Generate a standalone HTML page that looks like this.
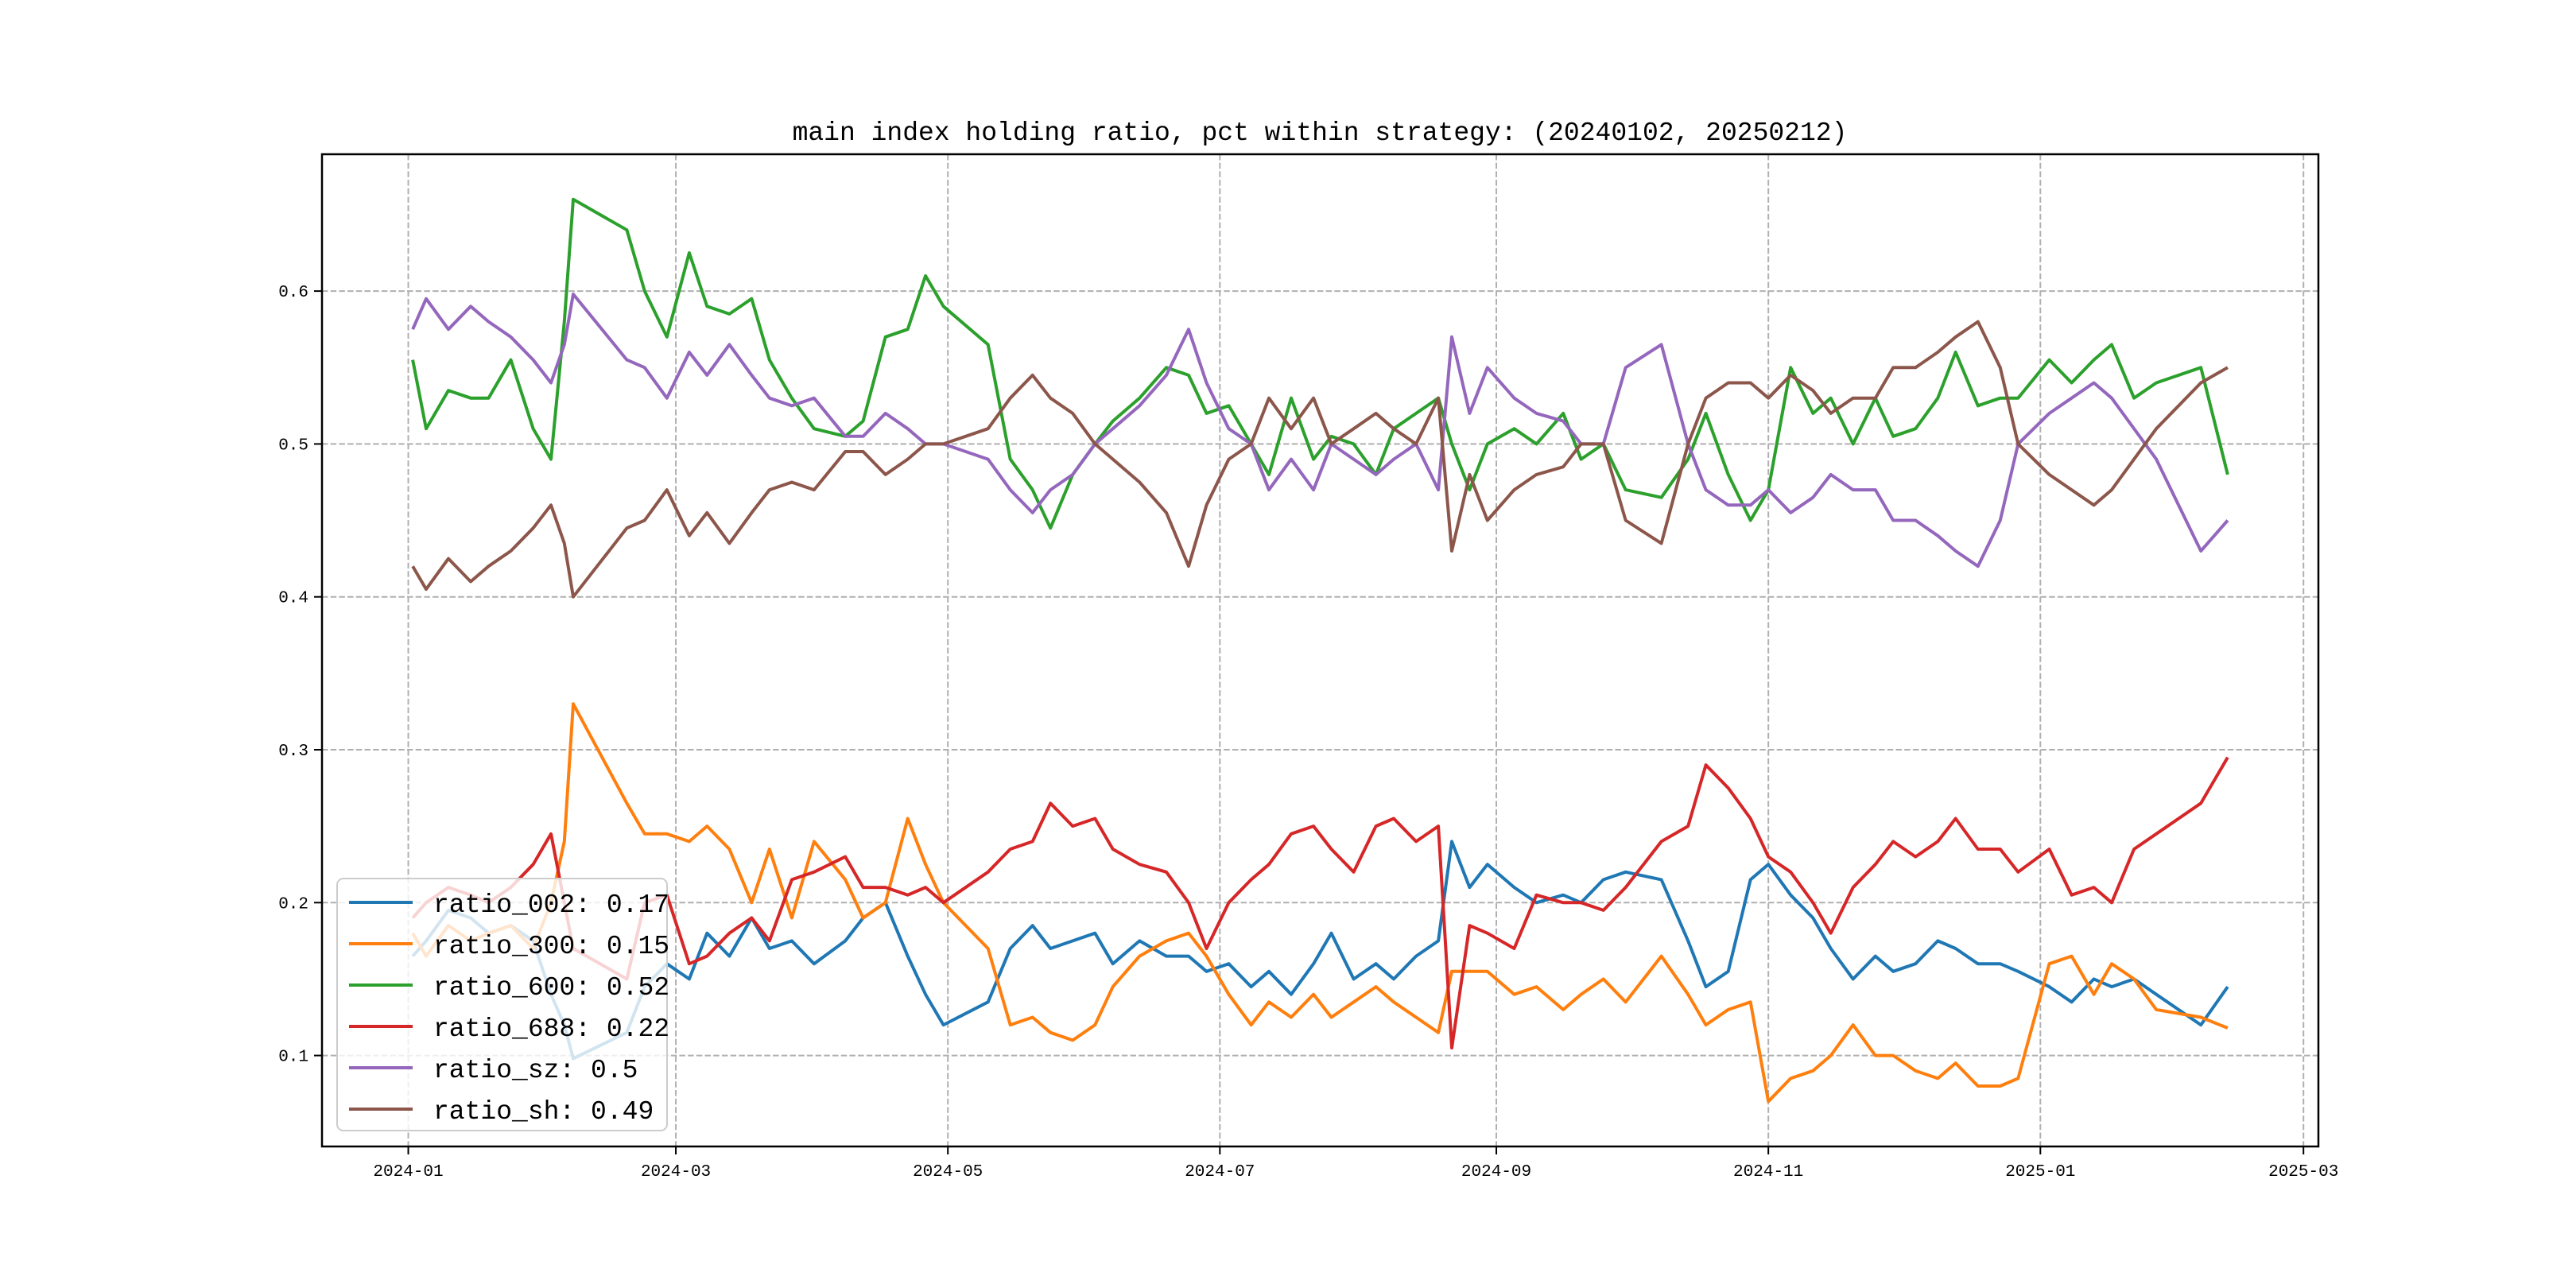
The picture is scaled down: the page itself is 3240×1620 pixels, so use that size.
<!DOCTYPE html>
<html><head><meta charset="utf-8">
<style>
html,body{margin:0;padding:0;background:#fff;}
svg{display:block;}
text{font-family:"Liberation Mono","Noto Sans CJK SC",monospace;}
</style></head>
<body>
<svg id="chart" width="3240" height="1620" viewBox="0 0 3240 1620" xmlns="http://www.w3.org/2000/svg">
<rect width="3240" height="1620" fill="#fff"/>
<text x="1660" y="176" font-size="33" text-anchor="middle">main index holding ratio, pct within strategy: (20240102, 20250212)</text>
<g id="grid"></g>
<g id="series"></g>
<rect x="405" y="194" width="2511" height="1248" fill="none" stroke="#000" stroke-width="2.5"/>
<g id="axes"></g>
<g id="legend"></g>
</svg>
<script>
const dates = ["2024-01-02","2024-01-05","2024-01-10","2024-01-15","2024-01-19","2024-01-24","2024-01-29","2024-02-02","2024-02-05","2024-02-07","2024-02-19","2024-02-23","2024-02-28","2024-03-04","2024-03-08","2024-03-13","2024-03-18","2024-03-22","2024-03-27","2024-04-01","2024-04-08","2024-04-12","2024-04-17","2024-04-22","2024-04-26","2024-04-30","2024-05-10","2024-05-15","2024-05-20","2024-05-24","2024-05-29","2024-06-03","2024-06-07","2024-06-13","2024-06-19","2024-06-24","2024-06-28","2024-07-03","2024-07-08","2024-07-12","2024-07-17","2024-07-22","2024-07-26","2024-07-31","2024-08-05","2024-08-09","2024-08-14","2024-08-19","2024-08-22","2024-08-26","2024-08-30","2024-09-05","2024-09-10","2024-09-16","2024-09-20","2024-09-25","2024-09-30","2024-10-08","2024-10-14","2024-10-18","2024-10-23","2024-10-28","2024-11-01","2024-11-06","2024-11-11","2024-11-15","2024-11-20","2024-11-25","2024-11-29","2024-12-04","2024-12-09","2024-12-13","2024-12-18","2024-12-23","2024-12-27","2025-01-03","2025-01-08","2025-01-13","2025-01-17","2025-01-22","2025-01-27","2025-02-06","2025-02-12"];
const ratio002 = [.165,.175,.195,.19,.18,.185,.175,.14,.12,.098,.115,.145,.16,.15,.18,.165,.19,.17,.175,.16,.175,.19,.2,.165,.14,.12,.135,.17,.185,.17,.175,.18,.16,.175,.165,.165,.155,.16,.145,.155,.14,.16,.18,.15,.16,.15,.165,.175,.24,.21,.225,.21,.2,.205,.2,.215,.22,.215,.175,.145,.155,.215,.225,.205,.19,.17,.15,.165,.155,.16,.175,.17,.16,.16,.155,.145,.135,.15,.145,.15,.14,.12,.145];
const ratio300 = [.18,.165,.185,.175,.18,.185,.17,.2,.24,.33,.265,.245,.245,.24,.25,.235,.2,.235,.19,.24,.215,.19,.2,.255,.225,.2,.17,.12,.125,.115,.11,.12,.145,.165,.175,.18,.165,.14,.12,.135,.125,.14,.125,.135,.145,.135,.125,.115,.155,.155,.155,.14,.145,.13,.14,.15,.135,.165,.14,.12,.13,.135,.07,.085,.09,.1,.12,.1,.1,.09,.085,.095,.08,.08,.085,.16,.165,.14,.16,.15,.13,.125,.118];
const ratio600 = [.555,.51,.535,.53,.53,.555,.51,.49,.58,.66,.64,.6,.57,.625,.59,.585,.595,.555,.53,.51,.505,.515,.57,.575,.61,.59,.565,.49,.47,.445,.48,.5,.515,.53,.55,.545,.52,.525,.5,.48,.53,.49,.505,.5,.48,.51,.52,.53,.5,.47,.5,.51,.5,.52,.49,.5,.47,.465,.49,.52,.48,.45,.47,.55,.52,.53,.5,.53,.505,.51,.53,.56,.525,.53,.53,.555,.54,.555,.565,.53,.54,.55,.48];
const ratio688 = [.19,.2,.21,.205,.2,.21,.225,.245,.2,.17,.15,.2,.205,.16,.165,.18,.19,.175,.215,.22,.23,.21,.21,.205,.21,.2,.22,.235,.24,.265,.25,.255,.235,.225,.22,.2,.17,.2,.215,.225,.245,.25,.235,.22,.25,.255,.24,.25,.105,.185,.18,.17,.205,.2,.2,.195,.21,.24,.25,.29,.275,.255,.23,.22,.2,.18,.21,.225,.24,.23,.24,.255,.235,.235,.22,.235,.205,.21,.2,.235,.245,.265,.295];
const ratioSz = [.575,.595,.575,.59,.58,.57,.555,.54,.565,.598,.555,.55,.53,.56,.545,.565,.545,.53,.525,.53,.505,.505,.52,.51,.5,.5,.49,.47,.455,.47,.48,.5,.51,.525,.545,.575,.54,.51,.5,.47,.49,.47,.5,.49,.48,.49,.5,.47,.57,.52,.55,.53,.52,.515,.5,.5,.55,.565,.5,.47,.46,.46,.47,.455,.465,.48,.47,.47,.45,.45,.44,.43,.42,.45,.5,.52,.53,.54,.53,.51,.49,.43,.45];
const ratioSh = [.42,.405,.425,.41,.42,.43,.445,.46,.435,.40,.445,.45,.47,.44,.455,.435,.455,.47,.475,.47,.495,.495,.48,.49,.5,.5,.51,.53,.545,.53,.52,.5,.49,.475,.455,.42,.46,.49,.5,.53,.51,.53,.5,.51,.52,.51,.5,.53,.43,.48,.45,.47,.48,.485,.5,.5,.45,.435,.5,.53,.54,.54,.53,.545,.535,.52,.53,.53,.55,.55,.56,.57,.58,.55,.5,.48,.47,.46,.47,.49,.51,.54,.55];
const seriesNames = ["ratio_002","ratio_300","ratio_600","ratio_688","ratio_sz","ratio_sh"];
const seriesLabels = ["0.17","0.15","0.52","0.22","0.5","0.49"];
const yTicks = [0.1,0.2,0.3,0.4,0.5,0.6];
const yTickLabels = ["0.1","0.2","0.3","0.4","0.5","0.6"];
const xTicks = ["2024-01-01","2024-03-01","2024-05-01","2024-07-01","2024-09-01","2024-11-01","2025-01-01","2025-03-01"];
const xTickLabels = ["2024-01","2024-03","2024-05","2024-07","2024-09","2024-11","2025-01","2025-03"];

const NS="http://www.w3.org/2000/svg";
const L=405,R=2916,T=194,B=1442;
const colors=["#1f77b4","#ff7f0e","#2ca02c","#d62728","#9467bd","#8c564b"];
const seriesData=[ratio002,ratio300,ratio600,ratio688,ratioSz,ratioSh];
function dnum(s){return Date.parse(s+"T00:00:00Z")/86400000;}
const d0=dnum(dates[0]),d1=dnum(dates[dates.length-1]);
const xpad=(d1-d0)*0.05;
const xMin=d0-xpad,xMax=d1+xpad;
let vmin=Infinity,vmax=-Infinity;
seriesData.forEach(a=>a.forEach(v=>{if(v<vmin)vmin=v;if(v>vmax)vmax=v;}));
const ypad=(vmax-vmin)*0.05;
const yMin=vmin-ypad,yMax=vmax+ypad;
function xs(s){return L+(dnum(s)-xMin)/(xMax-xMin)*(R-L);}
function ys(v){return B-(v-yMin)/(yMax-yMin)*(B-T);}
function mk(tag,attrs,parent){const e=document.createElementNS(NS,tag);for(const k in attrs)e.setAttribute(k,attrs[k]);parent.appendChild(e);return e;}
const grid=document.getElementById('grid'),axes=document.getElementById('axes'),ser=document.getElementById('series'),leg=document.getElementById('legend');
xTicks.forEach((t,i)=>{
  const x=xs(t);
  const g=mk('line',{x1:x,x2:x,y1:T,y2:B,stroke:'#b0b0b0','stroke-width':2,'stroke-dasharray':'7.5,3.2'},grid);
  
  
  const tk=mk('line',{x1:x,x2:x,y1:B,y2:B+10,stroke:'#000','stroke-width':2},axes);
  
  
  const tx=mk('text',{x:x,y:B+37,'font-size':21,'text-anchor':'middle'},axes);
  tx.textContent=xTickLabels[i];
  
  
});
yTicks.forEach((v,i)=>{
  const y=ys(v);
  const g=mk('line',{x1:L,x2:R,y1:y,y2:y,stroke:'#b0b0b0','stroke-width':2,'stroke-dasharray':'7.5,3.2'},grid);
  
  
  const tk=mk('line',{x1:L-10,x2:L,y1:y,y2:y,stroke:'#000','stroke-width':2},axes);
  
  
  const tx=mk('text',{x:L-17,y:y+7,'font-size':21,'text-anchor':'end'},axes);
  tx.textContent=yTickLabels[i];
  
  
});
seriesData.forEach((arr,si)=>{
  const pts=arr.map((v,i)=>xs(dates[i]).toFixed(1)+','+ys(v).toFixed(1)).join(' ');
  const p=mk('polyline',{points:pts,fill:'none',stroke:colors[si],'stroke-width':4,'stroke-linejoin':'round'},ser);
  
  
});
// legend
const lx=424,ly=1105,lw=415,lh=317;
const lb=mk('rect',{x:lx,y:ly,width:lw,height:lh,rx:8,fill:'#fff','fill-opacity':0.8,stroke:'#cccccc','stroke-width':2},leg);


seriesNames.forEach((n,i)=>{
  const cy=ly+30+i*52;
  const ln=mk('line',{x1:lx+15,x2:lx+95,y1:cy,y2:cy,stroke:colors[i],'stroke-width':4},leg);
  
  
  const t=mk('text',{x:lx+121,y:cy+12,'font-size':33},leg);
  t.textContent=n+': '+seriesLabels[i];
  
  
});
</script>
</body></html>
